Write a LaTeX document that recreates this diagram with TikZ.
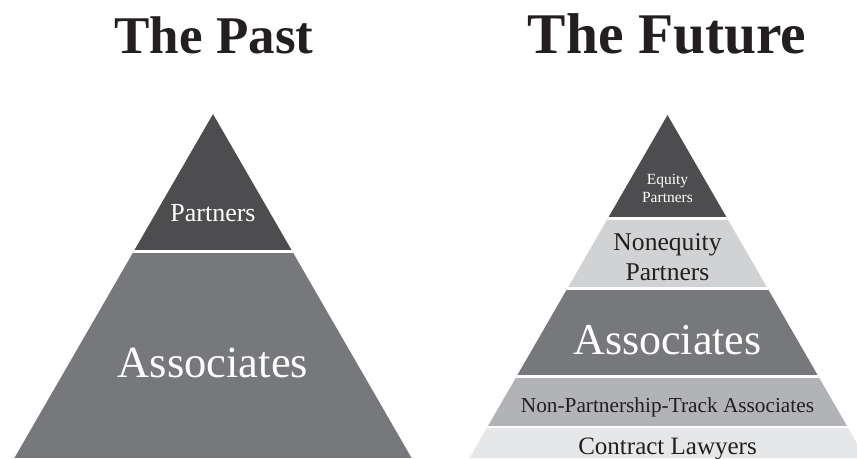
\documentclass[tikz,border=0pt]{standalone}
\usepackage{fontspec}
\setmainfont{Liberation Serif}
\usepackage{xcolor}
\usetikzlibrary{calc}
\usetikzlibrary{positioning}

\definecolor{topgray}{HTML}{4D4D4F}
\definecolor{midgray}{HTML}{77787B}
\definecolor{palegray}{HTML}{D1D2D4}
\definecolor{trackgray}{HTML}{B1B3B6}
\definecolor{lawgray}{HTML}{E6E7E8}
\definecolor{inkgray}{HTML}{231F20}

\begin{document}
\begin{tikzpicture}[x=1pt,y=-1pt]
 \tikzstyle{gap}=[draw=white, line width=2.5pt]
 \tikzstyle{lbl}=[anchor=base, inner sep=0pt, align=center]
 \tikzstyle{ttl}=[lbl, text=inkgray, font=\bfseries]
 \useasboundingbox (0,0) rectangle (857,458);
 % titles
 \node[ttl, font=\fontsize{53}{60}\selectfont\bfseries] (past) at (214,53) {The Past};
 \node[ttl, font=\fontsize{57.5}{64}\selectfont\bfseries] (future) at (667,53) {The Future};
 % left pyramid
 \coordinate (LA) at (213,114);
 \begin{scope}
  \clip (LA) -- (14.4,458) -- (411.6,458) -- cycle;
  \fill[topgray] (0,0) rectangle (857,251.5);
  \fill[midgray] (0,251.5) rectangle (857,458);
  \draw[gap] (0,251.5) -- (857,251.5);
 \end{scope}
 \node[lbl, text=white, font=\fontsize{26}{30}\selectfont] (lpart) at (213,221) {Partners};
 \node[lbl, text=white, font=\fontsize{44.5}{50}\selectfont] (lassoc) at (213,377) {Associates};
 % right pyramid
 \coordinate (RA) at (667.5,115);
 \begin{scope}
  \clip (0,0) rectangle (857,458);
  \clip (RA) -- (469.5,458) -- (865.5,458) -- cycle;
  \fill[topgray] (0,0) rectangle (857,218.7);
  \fill[palegray] (0,218.7) rectangle (857,288.5);
  \fill[midgray] (0,288.5) rectangle (857,376.5);
  \fill[trackgray] (0,376.5) rectangle (857,427);
  \fill[lawgray] (0,427) rectangle (857,458);
  \foreach \y in {218.7,288.5,376.5,427}
   \draw[gap] (0,\y) -- (857,\y);
 \end{scope}
 % base anchor of a two-line node sits on its last line
 \node[lbl, text=white, font=\fontsize{15.5}{18}\selectfont] (equity) at (667.5,202) {Equity\\Partners};
 \node[lbl, text=inkgray, font=\fontsize{25.6}{30}\selectfont] (noneq) at (667.5,280) {Nonequity\\Partners};
 \node[lbl, text=white, font=\fontsize{44}{50}\selectfont] (rassoc) at (667.5,354) {Associates};
 \node[lbl, text=inkgray, font=\fontsize{21.3}{25}\selectfont] (track) at (667.5,412) {Non-Partnership-Track Associates};
 \node[lbl, text=inkgray, font=\fontsize{25}{30}\selectfont] (contract) at (667.5,454) {Contract Lawyers};
\end{tikzpicture}
\end{document}
